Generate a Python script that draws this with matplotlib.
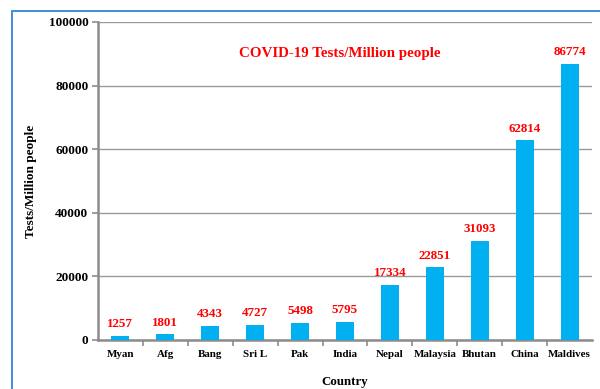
import matplotlib
matplotlib.use("Agg")
import matplotlib.pyplot as plt
from matplotlib.patches import Rectangle

countries = ["Myan", "Afg", "Bang", "Sri L", "Pak", "India", "Nepal",
             "Malaysia", "Bhutan", "China", "Maldives"]
tests_per_million = [1257, 1801, 4343, 4727, 5498, 5795, 17334,
                     22851, 31093, 62814, 86774]
y_ticks = [0, 20000, 40000, 60000, 80000, 100000]

plt.rcParams["font.family"] = ["Liberation Serif", "DejaVu Serif"]
plt.rcParams["font.weight"] = "bold"

fig = plt.figure(figsize=(6.0, 3.89), dpi=100)
fig.patch.set_facecolor("white")

# outer frame around the chart area
fig.patches.append(Rectangle((12 / 600, -0.2), 1.2, 1.2 - 11 / 389,
                             transform=fig.transFigure, fill=False,
                             edgecolor="#3f8fd6", linewidth=1.4))

ax = fig.add_axes([98 / 600, 1 - 340 / 389, (592 - 98) / 600, (340 - 22) / 389])

x = range(len(countries))
ax.bar(x, tests_per_million, width=0.4, color="#00b0f0", zorder=3)
for xi, v in zip(x, tests_per_million):
    ax.text(xi, v + 1800, str(v), ha="center", va="bottom", color="#ff0000",
            fontsize=9.4, fontweight="bold", zorder=4)

ax.set_xlim(-0.5, len(countries) - 0.5)
ax.set_ylim(0, 100000)
ax.set_yticks(y_ticks)
ax.set_yticklabels([str(t) for t in y_ticks], fontsize=9.5, fontweight="bold")
ax.yaxis.grid(True, color="#9a9a9a", linewidth=1.0, zorder=0)

ax.set_xticks([i - 0.5 for i in range(1, len(countries))], minor=False)
ax.set_xticklabels([])
ax.set_xticks(list(x), minor=True)
ax.set_xticklabels(countries, minor=True, fontsize=7.9, fontweight="bold")
ax.tick_params(axis="x", which="minor", length=0, pad=7)
ax.tick_params(axis="x", which="major", length=4, width=1.2, color="#8c8c8c")
ax.tick_params(axis="y", length=4, width=1.2, color="#8c8c8c", pad=3)

for side in ("top", "right"):
    ax.spines[side].set_visible(False)
for side in ("left", "bottom"):
    ax.spines[side].set_color("#8c8c8c")
    ax.spines[side].set_linewidth(1.8)

ax.set_ylabel("Tests/Million people", fontsize=9.5, fontweight="bold")
ax.yaxis.set_label_coords(-0.124, 0.5)
ax.set_xlabel("Country", fontsize=9.3, fontweight="bold")
ax.xaxis.set_label_coords(0.5, -0.112)

ax.text(0.49, 0.9, "COVID-19 Tests/Million people", transform=ax.transAxes,
        ha="center", va="center", color="#ff0000", fontsize=10.8, fontweight="bold")

fig.savefig("out.png", dpi=100, facecolor="white")
